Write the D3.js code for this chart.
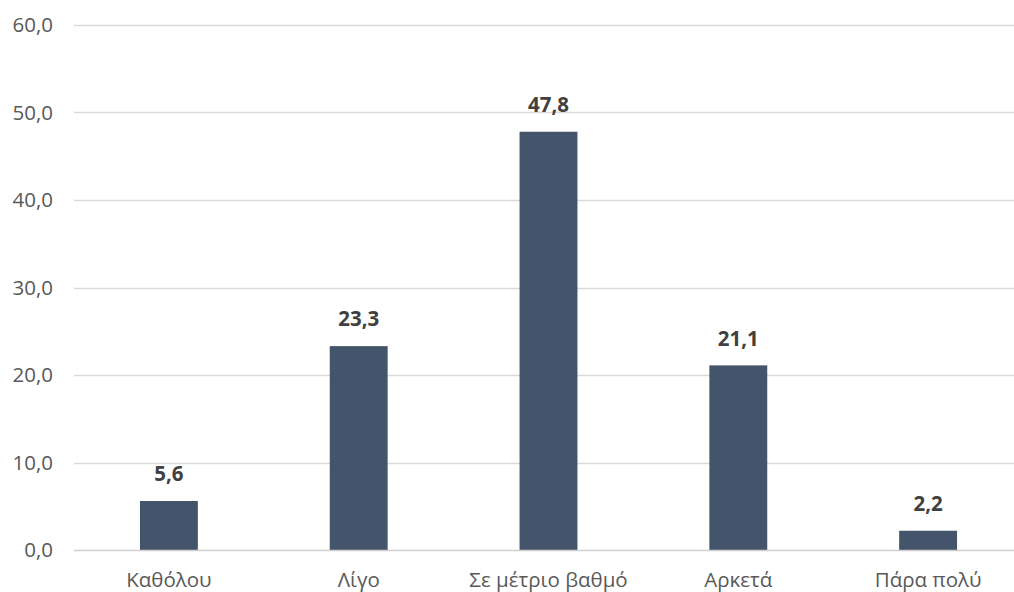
<!DOCTYPE html>
<html>
<head>
<meta charset="utf-8">
<script src="https://cdn.jsdelivr.net/npm/d3@7"></script>
<style>
  html, body { margin: 0; padding: 0; background: #fff; }
  svg { display: block; }
  text { font-family: "Open Sans", Lato, sans-serif; }
</style>
</head>
<body>
<svg id="chart" width="1014" height="592"></svg>
<script>
// Responses by degree
const categories = ["Καθόλου", "Λίγο", "Σε μέτριο βαθμό", "Αρκετά", "Πάρα πολύ"];
const values = [5.6, 23.3, 47.8, 21.1, 2.2];
const yTicks = [0, 10, 20, 30, 40, 50, 60];

const svg = d3.select("#chart");
const W = 1014, H = 592;
const plotLeft = 74, plotRight = 1023, plotTop = 25, plotBottom = 550;

const fmt = v => d3.format(".1f")(v).replace(".", ",");

const x = d3.scaleBand()
  .domain(categories)
  .range([plotLeft, plotRight])
  .paddingInner(0.695)
  .paddingOuter(0.3475);

const y = d3.scaleLinear()
  .domain([0, 60])
  .range([plotBottom, plotTop]);

// Horizontal gridlines
svg.append("g")
  .selectAll("line")
  .data(yTicks.filter(d => d > 0))
  .join("line")
  .attr("x1", plotLeft)
  .attr("x2", W)
  .attr("y1", d => Math.round(y(d)) + 0.5)
  .attr("y2", d => Math.round(y(d)) + 0.5)
  .attr("stroke", "#d9d9d9")
  .attr("stroke-width", 1.3);

// Y tick labels
svg.append("g")
  .selectAll("text")
  .data(yTicks)
  .join("text")
  .attr("x", 53)
  .attr("y", d => y(d))
  .attr("dy", "0.35em")
  .attr("text-anchor", "end")
  .attr("fill", "#595959")
  .attr("font-size", 20.5)
  .text(fmt);

// Bars
svg.append("g")
  .selectAll("rect")
  .data(values)
  .join("rect")
  .attr("x", (d, i) => x(categories[i]))
  .attr("width", x.bandwidth())
  .attr("y", d => y(d))
  .attr("height", d => y(0) - y(d))
  .attr("fill", "#44546a");

// Baseline
svg.append("line")
  .attr("x1", plotLeft)
  .attr("x2", W)
  .attr("y1", Math.round(y(0)) + 0.5)
  .attr("y2", Math.round(y(0)) + 0.5)
  .attr("stroke", "#d0d0d0")
  .attr("stroke-width", 1.5);

// Value labels
svg.append("g")
  .selectAll("text")
  .data(values)
  .join("text")
  .attr("x", (d, i) => x(categories[i]) + x.bandwidth() / 2)
  .attr("y", d => y(d) - 27)
  .attr("dy", "0.35em")
  .attr("text-anchor", "middle")
  .attr("fill", "#404040")
  .attr("font-size", 20.5)
  .attr("font-weight", "bold")
  .text(fmt);

// Category labels
svg.append("g")
  .selectAll("text")
  .data(categories)
  .join("text")
  .attr("x", d => x(d) + x.bandwidth() / 2)
  .attr("y", 580)
  .attr("dy", "0.35em")
  .attr("text-anchor", "middle")
  .attr("fill", "#595959")
  .attr("font-size", 20.5)
  .text(d => d);
</script>
</body>
</html>
